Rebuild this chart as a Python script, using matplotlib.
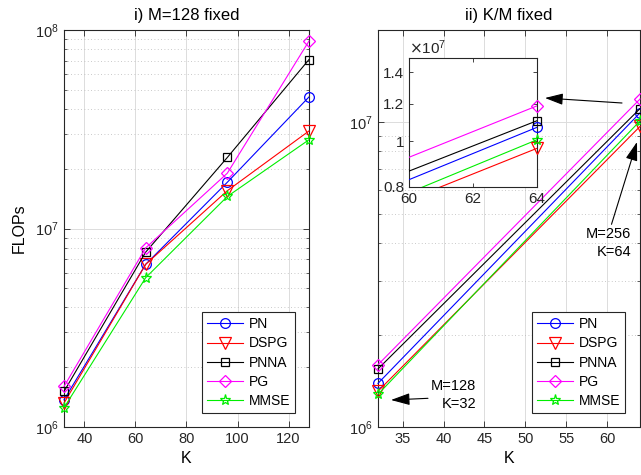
import numpy as np
import matplotlib
matplotlib.use('Agg')
import matplotlib.pyplot as plt
from matplotlib.ticker import LogLocator, NullFormatter, FixedLocator, FixedFormatter, NullLocator

plt.rcParams['font.family'] = ['Liberation Sans', 'DejaVu Sans']
plt.rcParams['axes.edgecolor'] = '#262626'
plt.rcParams['xtick.color'] = '#262626'
plt.rcParams['ytick.color'] = '#262626'

# i) M = 128 fixed
K_fixed = [32, 64, 96, 128]
pn_fixed = [1.37e6, 6.6e6, 1.71e7, 4.6e7]
dspg_fixed = [1.32e6, 6.6e6, 1.55e7, 3.1e7]
pnna_fixed = [1.51e6, 7.6e6, 2.28e7, 7.1e7]
pg_fixed = [1.6e6, 7.98e6, 1.9e7, 8.8e7]
mmse_fixed = [1.25e6, 5.65e6, 1.45e7, 2.8e7]

# ii) K/M fixed (M=128,K=32 -> M=256,K=64)
K_ratio = [32, 64]
pn_ratio = [1.39e6, 1.07e7]
dspg_ratio = [1.31e6, 0.966e7]
pnna_ratio = [1.55e6, 1.105e7]
pg_ratio = [1.6e6, 1.188e7]
mmse_ratio = [1.28e6, 1.007e7]

names = ['PN', 'DSPG', 'PNNA', 'PG', 'MMSE']
colors = ['#0000ff', '#ff0000', '#000000', '#ff00ff', '#00ee00']
markers = ['o', 'v', 's', 'D', '*']
msizes = [7, 8, 5.5, 6, 8]

W, H = 641, 475
def box(x0, y0, x1, y1):
    return [x0 / W, 1 - y1 / H, (x1 - x0) / W, (y1 - y0) / H]
def pt(x, y):
    return (x / W, 1 - y / H)

fig = plt.figure(figsize=(6.41, 4.75), dpi=100)
ax1 = fig.add_axes(box(64, 30, 309, 427))
ax2 = fig.add_axes(box(378, 30, 640, 427))
axin = fig.add_axes(box(409, 58, 537, 187))

def style_log(ax):
    ax.set_yscale('log')
    ax.grid(True, which='major', color='#dcdcdc', lw=0.7, ls='-')
    ax.grid(True, which='minor', axis='y', color='#b8b8b8', lw=0.6, ls=(0, (1, 3)))
    ax.tick_params(which='both', direction='in', top=True, right=True, labelsize=10.5)
    ax.tick_params(which='major', length=4, width=0.6)
    ax.tick_params(which='minor', length=2, width=0.5)
    ax.yaxis.set_major_locator(LogLocator(base=10, numticks=10))
    ax.yaxis.set_minor_locator(LogLocator(base=10, subs=np.arange(2, 10), numticks=10))
    ax.yaxis.set_minor_formatter(NullFormatter())
    ax.set_axisbelow(True)
    for s in ax.spines.values():
        s.set_linewidth(0.8)

series_fixed = [pn_fixed, dspg_fixed, pnna_fixed, pg_fixed, mmse_fixed]
series_ratio = [pn_ratio, dspg_ratio, pnna_ratio, pg_ratio, mmse_ratio]

for ys, n, c, m, ms in zip(series_fixed, names, colors, markers, msizes):
    ax1.plot(K_fixed, ys, color=c, marker=m, ms=ms, mfc='none', mec=c, mew=0.9,
             lw=0.8, label=n, clip_on=False, zorder=3)
for ys, n, c, m, ms in zip(series_ratio, names, colors, markers, msizes):
    ax2.plot(K_ratio, ys, color=c, marker=m, ms=ms, mfc='none', mec=c, mew=0.9,
             lw=0.8, label=n, clip_on=False, zorder=3)

style_log(ax1)
ax1.set_xlim(32, 128)
ax1.set_ylim(1e6, 1e8)
ax1.set_xticks([40, 60, 80, 100, 120])
ax1.set_title('i) M=128 fixed', fontsize=12, pad=7)
ax1.set_xlabel('K', fontsize=11.5)
ax1.set_ylabel('FLOPs', fontsize=11.5, labelpad=6)

style_log(ax2)
ax2.set_xlim(32, 64)
ax2.set_ylim(1e6, 2e7)
ax2.set_xticks([35, 40, 45, 50, 55, 60])
ax2.set_title('ii) K/M fixed', fontsize=12, pad=7)
ax2.set_xlabel('K', fontsize=11.5)

for ax in (ax1, ax2):
    leg = ax.legend(loc='lower right', bbox_to_anchor=(0.943, 0.035), borderaxespad=0,
                    fancybox=False, framealpha=1, edgecolor='#262626', fontsize=10,
                    handlelength=2.6, handletextpad=0.4, labelspacing=0.38,
                    borderpad=0.35)
    leg.get_frame().set_linewidth(0.8)
    leg.set_zorder(5)

# zoomed inset around K = 60..64
for ys, c, m, ms in zip(series_ratio, colors, markers, msizes):
    axin.plot(K_ratio, ys, color=c, lw=0.8, zorder=3)
    xin = [k for k in K_ratio if 60 <= k <= 64]
    yin = [v for k, v in zip(K_ratio, ys) if 60 <= k <= 64]
    axin.plot(xin, yin, ls='none', marker=m, ms=ms, mfc='none', mec=c, mew=0.9,
              clip_on=False, zorder=4)
axin.set_yscale('log')
axin.set_xlim(60, 64)
axin.set_ylim(0.8e7, 1.5e7)
axin.set_xticks([60, 62, 64])
axin.yaxis.set_major_locator(FixedLocator([0.8e7, 1e7, 1.2e7, 1.4e7]))
axin.yaxis.set_major_formatter(FixedFormatter(['0.8', '1', '1.2', '1.4']))
axin.yaxis.set_minor_locator(NullLocator())
axin.tick_params(which='both', direction='in', top=True, right=True, labelsize=11,
                 length=3, width=0.6)
for s in axin.spines.values():
    s.set_linewidth(0.8)
    s.set_color('#262626')
axin.text(0.0, 1.01, r'$\times\mathdefault{10^{7}}$', transform=axin.transAxes,
          ha='left', va='bottom', fontsize=11, color='#262626')

# annotations
arrow = dict(arrowstyle='-|>,head_length=1.1,head_width=0.35', color='k', lw=0.8,
             shrinkA=0, shrinkB=0)
ax2.annotate('', xy=pt(545, 98), xytext=pt(622, 103), xycoords='figure fraction',
             textcoords='figure fraction', arrowprops=arrow, annotation_clip=False)
ax2.annotate('M=256\nK=64', xy=pt(637, 142), xytext=pt(631, 243), xycoords='figure fraction',
             textcoords='figure fraction', ha='right', va='center', fontsize=10.5,
             linespacing=1.35, annotation_clip=False,
             arrowprops=dict(arrow, relpos=(0.55, 1.0)))
ax2.annotate('M=128\nK=32', xy=pt(391, 400), xytext=pt(476, 395), xycoords='figure fraction',
             textcoords='figure fraction', ha='right', va='center', fontsize=10.5,
             linespacing=1.35, annotation_clip=False,
             arrowprops=dict(arrow, relpos=(0.0, 0.4)))

fig.savefig('out.png', dpi=100)
